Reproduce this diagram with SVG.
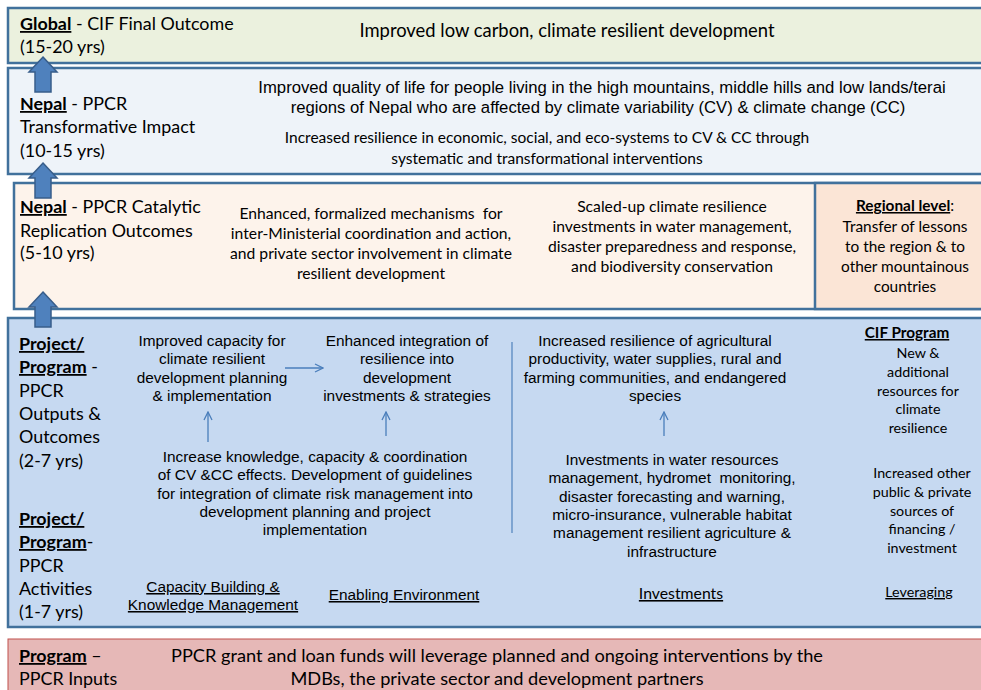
<svg xmlns="http://www.w3.org/2000/svg" width="981" height="690" viewBox="0 0 981 690">
<defs>
<style>
text{fill:#000}
.cal{font-family:Lato,"Open Sans",sans-serif}
.ar{font-family:"Liberation Sans",Arial,sans-serif;font-size:15.4px;text-anchor:middle}
.ar2{font-family:"Liberation Sans",Arial,sans-serif;font-size:16.7px;text-anchor:middle}
.lbl{font-family:Lato,"Open Sans",sans-serif;font-size:17.9px}
.b{font-weight:bold;text-decoration:underline}
.u{text-decoration:underline}
.mid{text-anchor:middle}
.band{stroke:#41719c;stroke-width:2.5}
.blk{fill:#4f81bd;stroke:#385d8a;stroke-width:1.5}
.thin{stroke:#4a7ebb;stroke-width:1.3;fill:none}
</style>
<marker id="open" viewBox="0 0 10 10" refX="9" refY="5" markerWidth="10" markerHeight="10" markerUnits="userSpaceOnUse" orient="auto">
<path d="M1,1 L9,5 L1,9" fill="none" stroke="#4a7ebb" stroke-width="1.3"/>
</marker>
</defs>

<g id="band-global">
<rect class="band" x="8" y="8" width="990" height="55" fill="#ebf1de"/>
<text class="lbl" x="20" y="30"><tspan class="b">Global</tspan> - CIF Final Outcome</text>
<text class="lbl" x="20" y="53">(15-20 yrs)</text>
<text class="cal mid" x="567" y="37" font-size="18.4">Improved low carbon, climate resilient development</text>
</g>

<g id="band-impact">
<rect class="band" x="8" y="68" width="990" height="106" fill="#eef3f9"/>
<text class="lbl" x="20" y="110"><tspan class="b">Nepal</tspan> - PPCR</text>
<text class="lbl" x="20" y="133">Transformative Impact</text>
<text class="lbl" x="20" y="157">(10-15 yrs)</text>
<text class="ar2" x="602" y="93">Improved quality of life for people living in the high mountains, middle hills and low lands/terai</text>
<text class="ar2" x="598" y="113">regions of Nepal who are affected by climate variability (CV) &amp; climate change (CC)</text>
<text class="cal mid" x="547" y="143" font-size="15.5">Increased resilience in economic, social, and eco-systems to CV &amp; CC through</text>
<text class="cal mid" x="547" y="164" font-size="15.5">systematic and transformational interventions</text>
</g>

<g id="band-catalytic">
<rect class="band" x="14" y="183" width="990" height="126" fill="#fdf3eb"/>
<text class="lbl" x="20" y="213"><tspan class="b">Nepal</tspan> - PPCR Catalytic</text>
<text class="lbl" x="20" y="237">Replication Outcomes</text>
<text class="lbl" x="20" y="259">(5-10 yrs)</text>
<g class="cal mid" font-size="15.7">
<text x="371" y="219" xml:space="preserve">Enhanced, formalized mechanisms  for</text>
<text x="371" y="239">inter-Ministerial coordination and action,</text>
<text x="371" y="259">and private sector involvement in climate</text>
<text x="371" y="279">resilient development</text>
<text x="672" y="212">Scaled-up climate resilience</text>
<text x="672" y="232">investments in water management,</text>
<text x="672" y="252">disaster preparedness and response,</text>
<text x="672" y="272">and biodiversity conservation</text>
</g>
</g>

<g id="regional-level">
<rect class="band" x="815" y="183" width="190" height="126" fill="#fbe5d6"/>
<g class="cal mid" font-size="15.4">
<text x="905" y="211"><tspan class="b">Regional level</tspan>:</text>
<text x="905" y="232">Transfer of lessons</text>
<text x="905" y="252">to the region &amp; to</text>
<text x="905" y="272">other mountainous</text>
<text x="905" y="292">countries</text>
</g>
</g>

<g id="band-outputs">
<rect class="band" x="8" y="318" width="990" height="309" fill="#c6d9f1"/>
<text class="lbl" x="19" y="350"><tspan class="b">Project/</tspan></text>
<text class="lbl" x="19" y="373"><tspan class="b">Program</tspan> -</text>
<text class="lbl" x="19" y="397">PPCR</text>
<text class="lbl" x="19" y="420">Outputs &amp;</text>
<text class="lbl" x="19" y="443">Outcomes</text>
<text class="lbl" x="19" y="467">(2-7 yrs)</text>
<text class="lbl" x="19" y="525"><tspan class="b">Project/</tspan></text>
<text class="lbl" x="19" y="548"><tspan class="b">Program</tspan>-</text>
<text class="lbl" x="19" y="572">PPCR</text>
<text class="lbl" x="19" y="595">Activities</text>
<text class="lbl" x="19" y="618">(1-7 yrs)</text>
</g>

<g id="node-capacity">
<text class="ar" x="212" y="346">Improved capacity for</text>
<text class="ar" x="212" y="364">climate resilient</text>
<text class="ar" x="212" y="383">development planning</text>
<text class="ar" x="212" y="401">&amp; implementation</text>
</g>
<g id="node-integration">
<text class="ar" x="407" y="346">Enhanced integration of</text>
<text class="ar" x="407" y="364">resilience into</text>
<text class="ar" x="407" y="383">development</text>
<text class="ar" x="407" y="401">investments &amp; strategies</text>
</g>
<g id="node-resilience">
<text class="ar" x="655" y="346">Increased resilience of agricultural</text>
<text class="ar" x="655" y="364">productivity, water supplies, rural and</text>
<text class="ar" x="655" y="383">farming communities, and endangered</text>
<text class="ar" x="655" y="401">species</text>
</g>
<g id="node-knowledge">
<text class="ar" x="315" y="462">Increase knowledge, capacity &amp; coordination</text>
<text class="ar" x="315" y="480">of CV &amp;CC effects. Development of guidelines</text>
<text class="ar" x="315" y="499">for integration of climate risk management into</text>
<text class="ar" x="315" y="517">development planning and project</text>
<text class="ar" x="315" y="535">implementation</text>
</g>
<g id="node-investments">
<text class="ar" x="672" y="465">Investments in water resources</text>
<text class="ar" x="672" y="483" xml:space="preserve">management, hydromet  monitoring,</text>
<text class="ar" x="672" y="502">disaster forecasting and warning,</text>
<text class="ar" x="672" y="520">micro-insurance, vulnerable habitat</text>
<text class="ar" x="672" y="538">management resilient agriculture &amp;</text>
<text class="ar" x="672" y="557">infrastructure</text>
</g>
<g id="node-cif" class="cal mid" font-size="14.3">
<text x="907" y="338" font-size="15.3"><tspan class="b">CIF Program</tspan></text>
<text x="918" y="358">New &amp;</text>
<text x="918" y="377">additional</text>
<text x="918" y="396">resources for</text>
<text x="918" y="414">climate</text>
<text x="918" y="433">resilience</text>
<text x="922" y="478">Increased other</text>
<text x="922" y="497">public &amp; private</text>
<text x="922" y="516">sources of</text>
<text x="922" y="534">financing /</text>
<text x="922" y="553">investment</text>
</g>
<g id="activity-labels">
<text class="ar u" x="213" y="592">Capacity Building &amp;</text>
<text class="ar u" x="213" y="610">Knowledge Management</text>
<text class="ar u" x="404" y="600">Enabling Environment</text>
<text class="cal mid u" x="681" y="599" font-size="15.8">Investments</text>
<text class="cal mid u" x="919" y="597" font-size="14.3">Leveraging</text>
</g>

<g id="band-inputs">
<rect x="8" y="639" width="990" height="60" fill="#e6b8b7" stroke="#c0504d" stroke-width="1"/>
<text class="lbl" x="19" y="662"><tspan class="b">Program</tspan> –</text>
<text class="lbl" x="19" y="685">PPCR Inputs</text>
<text class="cal mid" x="497" y="662" font-size="18.2">PPCR grant and loan funds will leverage planned and ongoing interventions by the</text>
<text class="cal mid" x="497" y="685" font-size="18.2">MDBs, the private sector and development partners</text>
</g>

<g id="connectors">
<path class="blk" d="M43,57 L57,72 L51,72 L51,92 L35,92 L35,72 L29,72 Z"/>
<path class="blk" d="M43,163 L57,178 L51,178 L51,198 L35,198 L35,178 L29,178 Z"/>
<path class="blk" d="M43,292 L57,307 L51,307 L51,327 L35,327 L35,307 L29,307 Z"/>
<line class="thin" x1="285" y1="368" x2="323" y2="368" marker-end="url(#open)"/>
<line class="thin" x1="208" y1="442" x2="208" y2="412" marker-end="url(#open)"/>
<line class="thin" x1="386" y1="436" x2="386" y2="412" marker-end="url(#open)"/>
<line class="thin" x1="664" y1="436" x2="664" y2="412" marker-end="url(#open)"/>
<line x1="512" y1="342" x2="512" y2="533" stroke="#4f81bd" stroke-width="1.2"/>
</g>
</svg>
